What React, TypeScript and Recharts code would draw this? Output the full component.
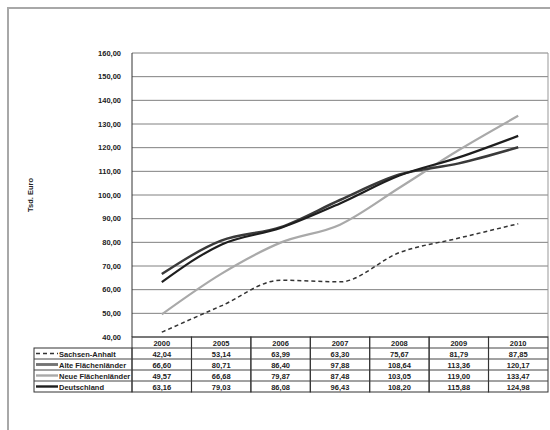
import React from 'react';
import { LineChart, Line, XAxis, YAxis, CartesianGrid } from 'recharts';

const years = ['2000', '2005', '2006', '2007', '2008', '2009', '2010'];
const sachsenAnhalt = [42.04, 53.14, 63.99, 63.3, 75.67, 81.79, 87.85];
const alteLaender = [66.6, 80.71, 86.4, 97.88, 108.64, 113.36, 120.17];
const neueLaender = [49.57, 66.68, 79.87, 87.48, 103.05, 119.0, 133.47];
const deutschland = [63.16, 79.03, 86.08, 96.43, 108.2, 115.88, 124.98];
const yTicks = [40, 50, 60, 70, 80, 90, 100, 110, 120, 130, 140, 150, 160];

const seriesKeys = ['sa', 'alte', 'neue', 'de'];
const seriesNames = ['Sachsen-Anhalt', 'Alte Flächenländer', 'Neue Flächenländer', 'Deutschland'];
const seriesValues = [sachsenAnhalt, alteLaender, neueLaender, deutschland];

const styles: Record<string, { stroke: string; width: number; dash?: string }> = {
  sa: { stroke: '#333', width: 1.5, dash: '4 3' },
  alte: { stroke: '#3a3a3a', width: 2.5 },
  neue: { stroke: '#a9a9a9', width: 2.2 },
  de: { stroke: '#1e1e1e', width: 2.2 },
};

const data = years.map((y, i) => {
  const row: Record<string, number | string> = { year: y };
  seriesKeys.forEach((k, s) => {
    row[k] = seriesValues[s][i];
  });
  return row;
});

const PLOT_LEFT = 132;
const PLOT_RIGHT = 549;
const PLOT_TOP = 53;
const PLOT_BOTTOM = 337;
const COL = (PLOT_RIGHT - PLOT_LEFT) / years.length;
const ROW = 11;
const LEGEND_LEFT = 34;
const FONT = 'Liberation Sans, Arial, sans-serif';
const TXT = '#222';

const fmt = (v: number) => v.toFixed(2).replace('.', ',');

const LegendSample = ({ k, y }: { k: string; y: number }) => {
  const st = styles[k];
  const x1 = LEGEND_LEFT + 2;
  const x2 = LEGEND_LEFT + 24;
  if (k === 'alte') {
    return (
      <g>
        <line x1={x1} x2={x2} y1={y} y2={y} stroke="#444" strokeWidth={2.4} />
        <line x1={x1} x2={x2} y1={y} y2={y} stroke="#888" strokeWidth={0.7} />
      </g>
    );
  }
  return (
    <line
      x1={x1}
      x2={x2}
      y1={y}
      y2={y}
      stroke={st.stroke}
      strokeWidth={k === 'sa' ? 1.6 : 2.4}
      strokeDasharray={st.dash}
    />
  );
};

const TableTick = (props: any) => {
  const { x, payload } = props;
  const i: number = payload.index;
  const left = x - COL / 2;
  const top = PLOT_BOTTOM;
  const bottom = top + ROW * (seriesKeys.length + 1);
  const lines = [];
  for (let r = 1; r <= seriesKeys.length; r++) {
    lines.push(
      <line key={'h' + r} x1={left} x2={left + COL} y1={top + ROW * r} y2={top + ROW * r} stroke="#444" strokeWidth={1} />
    );
  }
  return (
    <g>
      <rect x={left} y={top} width={COL} height={bottom - top} fill="none" stroke="#333" strokeWidth={1} />
      {lines}
      <text x={x} y={top + ROW - 2.5} textAnchor="middle" fontFamily={FONT} fontSize={7.5} fontWeight="bold" fill={TXT}>
        {years[i]}
      </text>
      {seriesValues.map((vals, s) => (
        <text
          key={s}
          x={x}
          y={top + ROW * (s + 2) - 2.5}
          textAnchor="middle"
          fontFamily={FONT}
          fontSize={7.5}
          fontWeight="bold"
          fill={TXT}
        >
          {fmt(vals[i])}
        </text>
      ))}
      {i === 0 && (
        <g>
          <rect
            x={LEGEND_LEFT}
            y={top + ROW}
            width={PLOT_LEFT - LEGEND_LEFT}
            height={ROW * seriesKeys.length}
            fill="none"
            stroke="#333"
            strokeWidth={1}
          />
          {seriesKeys.map((k, s) => (
            <g key={k}>
              {s > 0 && (
                <line
                  x1={LEGEND_LEFT}
                  x2={PLOT_LEFT}
                  y1={top + ROW * (s + 1)}
                  y2={top + ROW * (s + 1)}
                  stroke="#444"
                  strokeWidth={1}
                />
              )}
              <LegendSample k={k} y={top + ROW * (s + 1) + ROW / 2} />
              <text
                x={LEGEND_LEFT + 25}
                y={top + ROW * (s + 2) - 2.5}
                fontFamily={FONT}
                fontSize={7.5}
                fontWeight="bold"
                fill={TXT}
              >
                {seriesNames[s]}
              </text>
            </g>
          ))}
        </g>
      )}
    </g>
  );
};

export default function App() {
  return (
    <div style={{ position: 'absolute', left: 0, top: 0, width: 550, height: 430, background: '#fff', overflow: 'hidden' }}>
      <div
        style={{
          position: 'absolute',
          left: 7,
          top: 7,
          width: 700,
          height: 700,
          border: '2px solid #a8a8a8',
          boxSizing: 'border-box',
        }}
      />
      <div style={{ position: 'absolute', left: 0, top: 0 }}>
        <LineChart
          width={550}
          height={430}
          data={data}
          margin={{ top: PLOT_TOP, right: 550 - PLOT_RIGHT, bottom: 0, left: 0 }}
        >
          <CartesianGrid vertical={false} stroke="#808080" strokeWidth={1} />
          <XAxis
            dataKey="year"
            xAxisId={0}
            interval={0}
            height={430 - PLOT_BOTTOM}
            axisLine={false}
            tickLine={false}
            padding={{ left: COL / 2, right: COL / 2 }}
            tick={<TableTick />}
          />
          <YAxis
            yAxisId={0}
            width={PLOT_LEFT}
            domain={[40, 160]}
            ticks={yTicks}
            interval={0}
            tickFormatter={fmt}
            tickLine={false}
            tickMargin={5}
            axisLine={{ stroke: '#333', strokeWidth: 1 }}
            tick={{ fontFamily: FONT, fontSize: 7.5, fontWeight: 'bold', fill: TXT }}
            label={{
              value: 'Tsd. Euro',
              angle: -90,
              position: 'insideLeft',
              offset: 30,
              style: { fontFamily: FONT, fontSize: 7.5, fontWeight: 'bold', fill: TXT, textAnchor: 'middle' },
            }}
          />
          <YAxis
            yAxisId="r"
            orientation="right"
            width={550 - PLOT_RIGHT}
            domain={[40, 160]}
            tick={false}
            tickLine={false}
            axisLine={{ stroke: '#999', strokeWidth: 1 }}
          />
          {['neue', 'sa', 'alte', 'de'].map((k) => (
            <Line
              key={k}
              yAxisId={0}
              dataKey={k}
              name={seriesNames[seriesKeys.indexOf(k)]}
              type="monotone"
              stroke={styles[k].stroke}
              strokeWidth={styles[k].width}
              strokeDasharray={styles[k].dash}
              dot={false}
              activeDot={false}
              isAnimationActive={false}
            />
          ))}
        </LineChart>
      </div>
    </div>
  );
}
